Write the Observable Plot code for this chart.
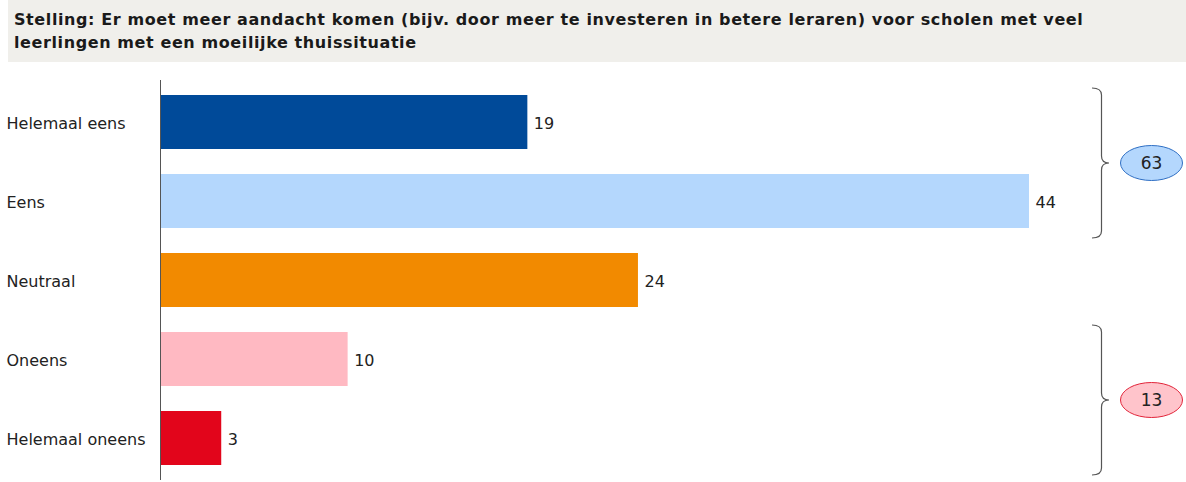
<!DOCTYPE html>
<html>
<head>
<meta charset="utf-8">
<script src="https://cdn.jsdelivr.net/npm/d3@7"></script>
<script src="https://cdn.jsdelivr.net/npm/@observablehq/plot@0.6"></script>
<style>
  html, body { margin: 0; padding: 0; background: #fff; }
  #title {
    margin-left: 8px; height: 62px; box-sizing: border-box;
    background: #f0efeb; padding: 8px 0 0 6px;
    font-family: "DejaVu Sans", Verdana, sans-serif; font-weight: bold;
    font-size: 16px; letter-spacing: 0.6px; line-height: 23px; color: #1a1a1a;
  }
  #chart svg { display: block; overflow: visible; }
</style>
</head>
<body>
<div id="title">Stelling: Er moet meer aandacht komen (bijv. door meer te investeren in betere leraren) voor scholen met veel<br>leerlingen met een moeilijke thuissituatie</div>
<div id="chart"></div>
<script>
const categories = ["Helemaal eens", "Eens", "Neutraal", "Oneens", "Helemaal oneens"];
const values = [18.6, 44, 24.2, 9.5, 3.1];
const colors = ["#004a99", "#b4d7fd", "#f28a00", "#ffb9c2", "#e2051b"];
const groupLabels = ["63", "13"];
const groupFrom = ["Helemaal eens", "Oneens"];
const groupTo = ["Eens", "Helemaal oneens"];
const groupFill = ["#b4d7fd", "#ffc4cb"];
const groupStroke = ["#2f6fc4", "#e2253a"];

const data = categories.map((c, i) => ({cat: c, value: values[i], color: colors[i]}));
const font = "'DejaVu Sans', Tahoma, sans-serif";

const plot = Plot.plot({
  width: 1186,
  height: 420,
  marginLeft: 160,
  marginRight: 38.5,
  marginTop: 18,
  marginBottom: 2,
  style: {fontFamily: font, fontSize: "16px", color: "#222", background: "transparent"},
  x: {domain: [0, 50], axis: null},
  y: {domain: categories, paddingInner: 0.32, paddingOuter: 0.18, axis: null},
  color: {type: "identity"},
  marks: [
    Plot.barX(data, {y: "cat", x: "value", fill: "color"}),
    Plot.ruleX([0], {stroke: "#555", strokeWidth: 1}),
    Plot.text(data, {y: "cat", x: "value", text: d => String(Math.round(d.value)), textAnchor: "start", dx: 6, dy: 1.5, fill: "#222", fontSize: 16}),
    Plot.text(data, {y: "cat", frameAnchor: "left", text: "cat", textAnchor: "start", dx: -154, dy: 1.5, fill: "#222", fontSize: 16})
  ]
});
document.getElementById("chart").appendChild(plot);

// Group braces and totals, positioned from the plot's own y scale
const ys = plot.scale("y");
const bw = ys.bandwidth;
const svg = d3.select(plot);
const g = svg.append("g");
groupLabels.forEach((lab, i) => {
  const top = ys.apply(groupFrom[i]) - 7;
  const bot = ys.apply(groupTo[i]) + bw + 10;
  const mid = (top + bot) / 2;
  const xs = 1092, xm = 1101.5, xt = 1109, r = 7;
  const path = `M${xs},${top} Q${xm},${top} ${xm},${top + r} L${xm},${mid - r} Q${xm},${mid} ${xt},${mid} Q${xm},${mid} ${xm},${mid + r} L${xm},${bot - r} Q${xm},${bot} ${xs},${bot}`;
  g.append("path").attr("d", path).attr("fill", "none").attr("stroke", "#555").attr("stroke-width", 1.2);
  g.append("ellipse").attr("cx", 1151.5).attr("cy", mid).attr("rx", 31).attr("ry", 17.5)
    .attr("fill", groupFill[i]).attr("stroke", groupStroke[i]).attr("stroke-width", 1);
  g.append("text").attr("x", 1151.5).attr("y", mid).attr("dy", "0.37em").attr("text-anchor", "middle")
    .attr("font-size", 17).attr("fill", "#222").attr("font-family", font).text(lab);
});
</script>
</body>
</html>
